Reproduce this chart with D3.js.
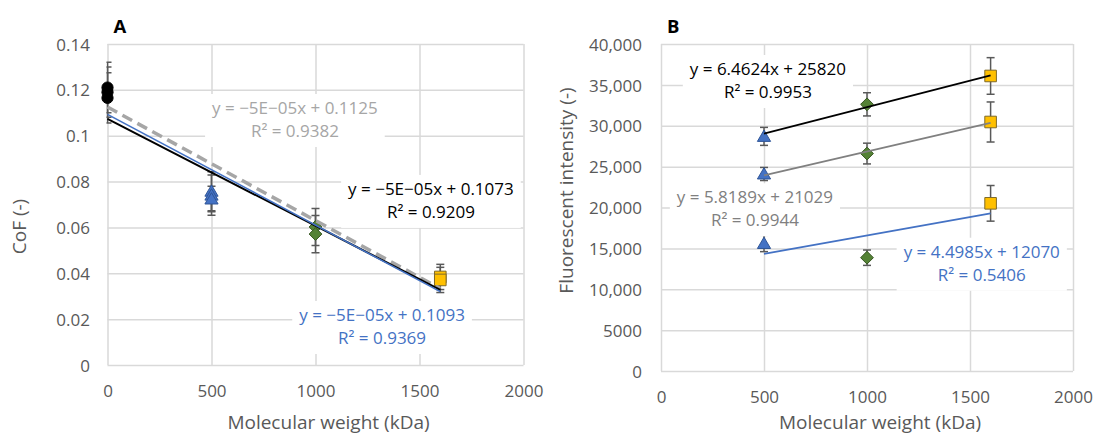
<!DOCTYPE html>
<html><head><meta charset="utf-8">
<script src="https://cdn.jsdelivr.net/npm/d3@7"></script>
<style>
body{margin:0;background:#fff}
svg{display:block}
text{font-family:"Open Sans",sans-serif}
</style>
</head><body>
<svg id="chart" width="1094" height="434"></svg>
<script>
// ================= DATA =================
// Panel A: coefficient of friction vs molecular weight
const xTicksA = [0, 500, 1000, 1500, 2000];
const xTickLabelsA = ["0", "500", "1000", "1500", "2000"];
const yTicksA = [0, 0.02, 0.04, 0.06, 0.08, 0.1, 0.12, 0.14];
const yTickLabelsA = ["0", "0.02", "0.04", "0.06", "0.08", "0.1", "0.12", "0.14"];
const mwCircleA = [0, 0, 0];
const cofCircle = [0.121, 0.119, 0.1165];
const cofCircleErr = [0.011, 0.011, 0.011];
const mwTriangleA = [500, 500, 500];
const cofTriangle = [0.0758, 0.0741, 0.0724];
const cofTriangleErr = [0.0085, 0.0088, 0.0056];
const mwDiamondA = [1000, 1000];
const cofDiamond = [0.0602, 0.0571];
const cofDiamondErr = [0.0081, 0.0081];
const mwSquareA = [1600, 1600];
const cofSquare = [0.0384, 0.0371];
const cofSquareErr = [0.0055, 0.0055];
// trendlines A (order: gray dashed, black, blue); fitted over 0..1600
const trendARange = [0, 1600];
const trendASlope = [-4.95e-5, -4.66e-5, -4.83e-5];
const trendAIntercept = [0.1125, 0.1073, 0.1093];
const trendAEq = ["y = \u22125E\u221205x + 0.1125", "y = \u22125E\u221205x + 0.1073", "y = \u22125E\u221205x + 0.1093"];
const trendAR2 = ["R\u00B2 = 0.9382", "R\u00B2 = 0.9209", "R\u00B2 = 0.9369"];

// Panel B: fluorescent intensity vs molecular weight
const xTicksB = [0, 500, 1000, 1500, 2000];
const xTickLabelsB = ["0", "500", "1000", "1500", "2000"];
const yTicksB = [0, 5000, 10000, 15000, 20000, 25000, 30000, 35000, 40000];
const yTickLabelsB = ["0", "5000", "10,000", "15,000", "20,000", "25,000", "30,000", "35,000", "40,000"];
const mwB = [500, 1000, 1600];
const fiTop = [28700, 32620, 36090];
const fiTopErr = [1100, 1420, 2240];
const fiMid = [24100, 26600, 30460];
const fiMidErr = [800, 1270, 2450];
const fiLow = [15600, 13860, 20510];
const fiLowErr = [1000, 940, 2180];
// trendlines B (order: black, gray, blue); fitted over 500..1600
const trendBRange = [500, 1600];
const trendBSlope = [6.4624, 5.8189, 4.4985];
const trendBIntercept = [25820, 21029, 12070];
const trendBEq = ["y = 6.4624x + 25820", "y = 5.8189x + 21029", "y = 4.4985x + 12070"];
const trendBR2 = ["R\u00B2 = 0.9953", "R\u00B2 = 0.9944", "R\u00B2 = 0.5406"];

// ================= STYLE / LAYOUT =================
const GRID = "#d9d9d9", TXT = "#595959", ERR = "#595959";
const BLUE = "#4472c4";
const svg = d3.select("#chart");
svg.append("rect").attr("width", 1094).attr("height", 434).attr("fill", "#fff");

const shapes = {
  circle: "M0,-5.6A5.6,5.6 0 1,1 0,5.6A5.6,5.6 0 1,1 0,-5.6Z",
  triangle: "M0,-6.3L6.6,5L-6.6,5Z",
  diamond: "M0,-6.4L6.4,0L0,6.4L-6.4,0Z",
  square: "M-5.8,-5.8H5.8V5.8H-5.8Z"
};
const markerStyle = {
  circle: {fill: "#000", stroke: "#000"},
  triangle: {fill: "#4472c4", stroke: "#2f5597"},
  diamond: {fill: "#548235", stroke: "#385723"},
  square: {fill: "#ffc000", stroke: "#7f6a2a"}
};

function panel(cfg) {
  const x = d3.scaleLinear().domain([0, 2000]).range([cfg.left, cfg.right]);
  const y = d3.scaleLinear().domain(cfg.yDomain).range([cfg.bottom, cfg.top]);
  const g = svg.append("g");

  // gridlines
  g.append("g")
    .call(d3.axisLeft(y).tickValues(cfg.yTicks).tickSize(-(cfg.right - cfg.left)).tickFormat(""))
    .attr("transform", `translate(${cfg.left},0)`)
    .call(a => a.select(".domain").remove())
    .call(a => a.selectAll("line").attr("stroke", GRID).attr("stroke-width", 1.5));
  g.append("g")
    .call(d3.axisBottom(x).tickValues(cfg.xTicks).tickSize(-(cfg.bottom - cfg.top)).tickFormat(""))
    .attr("transform", `translate(0,${cfg.bottom})`)
    .call(a => a.select(".domain").remove())
    .call(a => a.selectAll("line").attr("stroke", GRID).attr("stroke-width", 1.5));

  // tick labels
  g.append("g").attr("transform", `translate(${cfg.left - cfg.yLabelGap},0)`)
    .call(d3.axisLeft(y).tickValues(cfg.yTicks).tickSize(0).tickPadding(0)
      .tickFormat((d, i) => cfg.yTickLabels[i]))
    .call(a => a.select(".domain").remove())
    .call(a => a.selectAll("text").attr("fill", TXT).attr("font-size", 17)
      .attr("font-family", '"Open Sans",sans-serif').attr("dy", "0.36em"));
  g.append("g").attr("transform", `translate(0,${cfg.bottom + cfg.xLabelGap})`)
    .call(d3.axisBottom(x).tickValues(cfg.xTicks).tickSize(0).tickPadding(0)
      .tickFormat((d, i) => cfg.xTickLabels[i]))
    .call(a => a.select(".domain").remove())
    .call(a => a.selectAll("text").attr("fill", TXT).attr("font-size", 17)
      .attr("font-family", '"Open Sans",sans-serif').attr("dy", "0.36em"));

  // axis titles
  g.append("text").attr("x", (cfg.left + cfg.right) / 2 + 13).attr("y", 428.5)
    .attr("text-anchor", "middle").attr("font-size", 19).attr("fill", TXT)
    .text("Molecular weight (kDa)");
  g.append("text")
    .attr("transform", `translate(${cfg.yTitleX},${(cfg.top + cfg.bottom) / 2 + cfg.yTitleShift}) rotate(-90)`)
    .attr("text-anchor", "middle").attr("font-size", 19).attr("fill", TXT)
    .text(cfg.yTitle);

  // panel letter
  g.append("text").attr("x", cfg.left + cfg.letterDx).attr("y", 33)
    .attr("font-size", 18.5).attr("font-weight", "bold").attr("fill", "#000")
    .attr("font-family", '"Liberation Sans",Arial,sans-serif')
    .text(cfg.letter);

  // error bars (clipped to plot area)
  const clipId = "clip" + cfg.letter;
  svg.append("clipPath").attr("id", clipId).append("rect")
    .attr("x", cfg.left - 1).attr("y", cfg.top - 30)
    .attr("width", cfg.right - cfg.left + 2).attr("height", cfg.bottom - cfg.top + 30);
  const eg = g.append("g").attr("clip-path", `url(#${clipId})`)
    .attr("stroke", ERR).attr("stroke-width", 1.5).attr("fill", "none");
  cfg.points.forEach(p => {
    const cx = x(p.x), y0 = y(p.y - p.e), y1 = y(p.y + p.e);
    eg.append("line").attr("x1", cx).attr("x2", cx).attr("y1", y0).attr("y2", y1);
    eg.append("line").attr("x1", cx - 4).attr("x2", cx + 4).attr("y1", y0).attr("y2", y0);
    eg.append("line").attr("x1", cx - 4).attr("x2", cx + 4).attr("y1", y1).attr("y2", y1);
  });

  // markers
  const mg = g.append("g");
  cfg.points.forEach(p => {
    const st = markerStyle[p.shape];
    mg.append("path").attr("d", shapes[p.shape])
      .attr("transform", `translate(${x(p.x)},${y(p.y)})`)
      .attr("fill", st.fill).attr("stroke", st.stroke).attr("stroke-width", 1);
  });

  // trendlines
  cfg.trends.forEach(t => {
    g.append("line")
      .attr("x1", x(t.range[0])).attr("y1", y(t.intercept + t.slope * t.range[0]))
      .attr("x2", x(t.range[1])).attr("y2", y(t.intercept + t.slope * t.range[1]))
      .attr("stroke", t.color).attr("stroke-width", t.width)
      .attr("stroke-dasharray", t.dash || null);
  });

  // trendline labels with white boxes
  cfg.trends.forEach(t => {
    const lg = g.append("g");
    const cx = x(t.lx), cy = y(t.ly);
    const box = lg.append("rect").attr("fill", "#fff");
    const t1 = lg.append("text").attr("x", cx).attr("y", cy + 6).attr("text-anchor", "middle")
      .attr("font-size", 17).attr("fill", t.textColor).text(t.eq);
    const t2 = lg.append("text").attr("x", cx).attr("y", cy + 6 + 23).attr("text-anchor", "middle")
      .attr("font-size", 17).attr("fill", t.textColor).text(t.r2);
    const w = Math.max(t1.node().getComputedTextLength(), t2.node().getComputedTextLength());
    box.attr("x", cx - w / 2 - 7).attr("width", w + 14)
      .attr("y", cy - 14).attr("height", 23 + 30);
  });
}

function pts(xs, ys, es, shape) {
  return ys.map((v, i) => ({x: xs[i], y: v, e: es[i], shape}));
}
const shapeB = ["triangle", "diamond", "square"];

panel({
  letter: "A", letterDx: 6,
  left: 107.5, right: 523.5, top: 44, bottom: 365,
  yDomain: [0, 0.14], yTicks: yTicksA, yTickLabels: yTickLabelsA,
  xTicks: xTicksA, xTickLabels: xTickLabelsA,
  yLabelGap: 17.5, xLabelGap: 26,
  yTitle: "CoF (-)", yTitleX: 26, yTitleShift: 22,
  points: [
    ...pts(mwCircleA, cofCircle, cofCircleErr, "circle"),
    ...pts(mwTriangleA, cofTriangle, cofTriangleErr, "triangle"),
    ...pts(mwDiamondA, cofDiamond, cofDiamondErr, "diamond"),
    ...pts(mwSquareA, cofSquare, cofSquareErr, "square")
  ],
  trends: [
    {range: trendARange, slope: trendASlope[0], intercept: trendAIntercept[0], color: "#a6a6a6", width: 3.5, dash: "11,6",
     eq: trendAEq[0], r2: trendAR2[0], textColor: "#a6a6a6", lx: 901, ly: 0.1121},
    {range: trendARange, slope: trendASlope[1], intercept: trendAIntercept[1], color: "#000", width: 2,
     eq: trendAEq[1], r2: trendAR2[1], textColor: "#000", lx: 1555, ly: 0.0768},
    {range: trendARange, slope: trendASlope[2], intercept: trendAIntercept[2], color: BLUE, width: 1.6,
     eq: trendAEq[2], r2: trendAR2[2], textColor: BLUE, lx: 1320, ly: 0.0218}
  ]
});

panel({
  letter: "B", letterDx: 6,
  left: 661, right: 1073, top: 44, bottom: 371,
  yDomain: [0, 40000], yTicks: yTicksB, yTickLabels: yTickLabelsB,
  xTicks: xTicksB, xTickLabels: xTickLabelsB,
  yLabelGap: 19, xLabelGap: 26,
  yTitle: "Fluorescent intensity (-)", yTitleX: 573, yTitleShift: -17,
  points: [
    ...pts(mwB, fiTop, fiTopErr).map((p, i) => ({...p, shape: shapeB[i]})),
    ...pts(mwB, fiMid, fiMidErr).map((p, i) => ({...p, shape: shapeB[i]})),
    ...pts(mwB, fiLow, fiLowErr).map((p, i) => ({...p, shape: shapeB[i]}))
  ],
  trends: [
    {range: trendBRange, slope: trendBSlope[0], intercept: trendBIntercept[0], color: "#000", width: 1.8,
     eq: trendBEq[0], r2: trendBR2[0], textColor: "#000", lx: 519, ly: 36940},
    {range: trendBRange, slope: trendBSlope[1], intercept: trendBIntercept[1], color: "#808080", width: 1.8,
     eq: trendBEq[1], r2: trendBR2[1], textColor: "#808080", lx: 456, ly: 21250},
    {range: trendBRange, slope: trendBSlope[2], intercept: trendBIntercept[2], color: BLUE, width: 1.8,
     eq: trendBEq[2], r2: trendBR2[2], textColor: BLUE, lx: 1557, ly: 14590}
  ]
});
</script>
</body></html>
